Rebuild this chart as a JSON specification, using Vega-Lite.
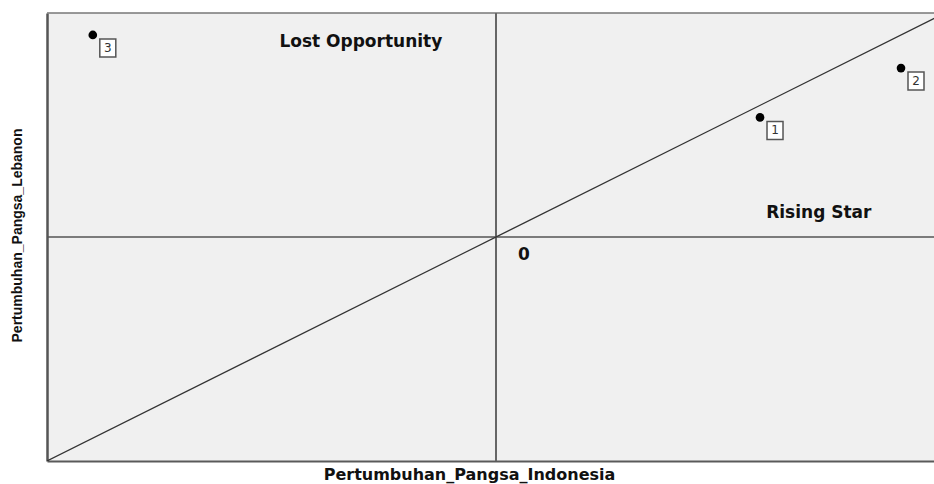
{
  "$schema": "https://vega.github.io/schema/vega-lite/v6.json",
  "width": 887,
  "height": 448,
  "autosize": "none",
  "padding": {"left": 47, "top": 13, "right": 0, "bottom": 23},
  "background": "white",
  "config": {
    "view": {"fill": "#f0f0f0", "stroke": null},
    "axis": {"grid": false, "ticks": false, "labels": false}
  },
  "datasets": {
    "points": [
      {"x": 0.588, "y": 0.534, "id": "1"},
      {"x": 0.902, "y": 0.754, "id": "2"},
      {"x": -0.898, "y": 0.902, "id": "3"}
    ],
    "notes": [
      {"x": -0.301, "y": 0.871, "text": "Lost Opportunity"},
      {"x": 0.719, "y": 0.107, "text": "Rising Star"},
      {"x": 0.062, "y": -0.08, "text": "0"}
    ],
    "diag": [
      {"x": -1, "y": -1},
      {"x": 1, "y": 1}
    ]
  },
  "encoding": {
    "x": {
      "field": "x", "type": "quantitative",
      "scale": {"domain": [-1, 0.9755], "nice": false, "zero": false},
      "axis": {
        "title": "Pertumbuhan_Pangsa_Indonesia",
        "domainColor": "#5a5a5a", "domainWidth": 2,
        "titleFont": "DejaVu Sans", "titleFontWeight": "bold", "titleFontSize": 16,
        "titleColor": "#111", "titleX": 422, "titleY": 18, "titleBaseline": "alphabetic", "titleAlign": "center"
      }
    },
    "y": {
      "field": "y", "type": "quantitative",
      "scale": {"domain": [-1, 1], "nice": false, "zero": false},
      "axis": {
        "title": "Pertumbuhan_Pangsa_Lebanon",
        "domainColor": "#555", "domainWidth": 2.5,
        "titleFont": "Liberation Sans", "titleFontWeight": "bold", "titleFontSize": 14,
        "titleColor": "#111", "titleX": -30, "titleY": 222, "titleBaseline": "middle", "titleAlign": "center", "titleAngle": 270
      }
    }
  },
  "layer": [
    {
      "data": {"values": [{"v": 1}]},
      "mark": {"type": "rule", "color": "#777", "strokeWidth": 1.5},
      "encoding": {"y": {"field": "v", "type": "quantitative"}, "x": null}
    },
    {
      "data": {"values": [{"v": 0}]},
      "mark": {"type": "rule", "color": "#555", "strokeWidth": 1.5},
      "encoding": {"y": {"field": "v", "type": "quantitative"}, "x": null}
    },
    {
      "data": {"values": [{"v": 0}]},
      "mark": {"type": "rule", "color": "#666", "strokeWidth": 2},
      "encoding": {"x": {"field": "v", "type": "quantitative"}, "y": null}
    },
    {
      "data": {"name": "diag"},
      "mark": {"type": "line", "color": "#333", "strokeWidth": 1.2, "clip": true},
      "encoding": {}
    },
    {
      "data": {"name": "points"},
      "mark": {"type": "point", "shape": "circle", "filled": true, "color": "black", "size": 75, "opacity": 1},
      "encoding": {}
    },
    {
      "data": {"name": "points"},
      "mark": {"type": "point", "shape": "M-0.889,-1H0.889V1H-0.889Z", "size": 324, "filled": true, "fill": "white", "stroke": "#555", "strokeWidth": 1.5, "opacity": 1, "xOffset": 15, "yOffset": 13},
      "encoding": {}
    },
    {
      "data": {"name": "points"},
      "mark": {"type": "text", "font": "DejaVu Sans", "fontSize": 12, "color": "#333", "xOffset": 15, "yOffset": 13, "align": "center", "baseline": "middle"},
      "encoding": {"text": {"field": "id"}}
    },
    {
      "data": {"name": "notes"},
      "mark": {"type": "text", "font": "DejaVu Sans", "fontWeight": "bold", "fontSize": 17, "color": "#111", "align": "center", "baseline": "middle"},
      "encoding": {"text": {"field": "text"}}
    }
  ]
}
